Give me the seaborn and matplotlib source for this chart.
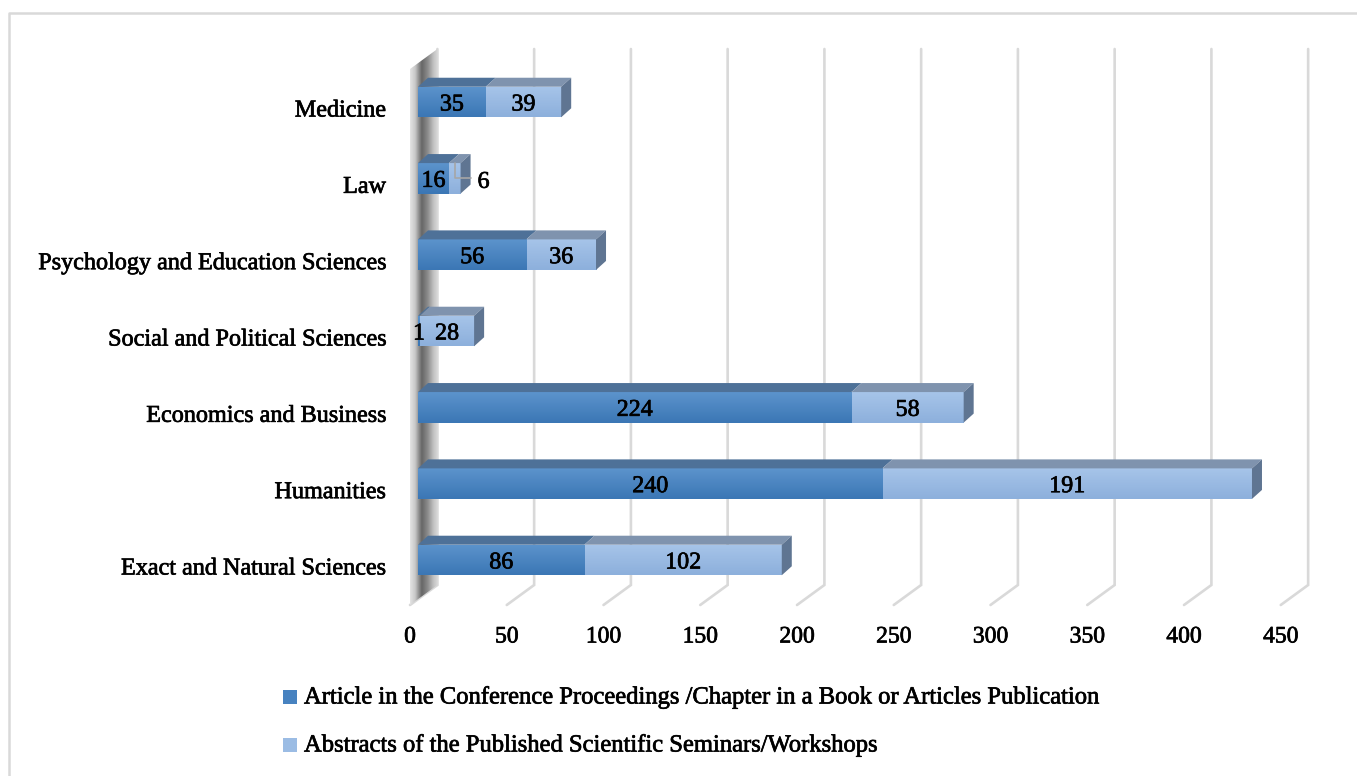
import numpy as np
import pandas as pd
import matplotlib
matplotlib.use("Agg")
import matplotlib.pyplot as plt
import matplotlib.patheffects as pe
import seaborn as sns
from matplotlib.patches import Polygon, Rectangle
from matplotlib.lines import Line2D
from matplotlib.colors import LinearSegmentedColormap, to_rgb

# ---------------- data ----------------
categories = ["Medicine", "Law", "Psychology and Education Sciences",
              "Social and Political Sciences", "Economics and Business",
              "Humanities", "Exact and Natural Sciences"]
articles = [35, 16, 56, 1, 224, 240, 86]
abstracts = [39, 6, 36, 28, 58, 191, 102]
series_names = ["Article in the Conference Proceedings /Chapter in a Book or Articles Publication",
                "Abstracts of the Published Scientific Seminars/Workshops"]
xticks = [0, 50, 100, 150, 200, 250, 300, 350, 400, 450]

totals = [a + b for a, b in zip(articles, abstracts)]
df = pd.DataFrame({"category": categories, "articles": articles,
                   "abstracts": abstracts, "total": totals})

# ---------------- style ----------------
sns.set_style("white")
plt.rcParams["font.family"] = ["Liberation Serif", "DejaVu Serif"]
heavy = [pe.withStroke(linewidth=0.5, foreground="black")]

W, H = 1357, 776
fig = plt.figure(figsize=(W / 100, H / 100), dpi=100)

# mapping: px = 418 + 1.935*v ; py = 102 + 76.33*y
PPU_X = 1.935
PPU_Y = 76.33
X0PX, Y0PX = 418, 102
xlim = (-20, 470)
ylim = (7.5, -1.0)
left_px = X0PX + PPU_X * xlim[0]
right_px = X0PX + PPU_X * xlim[1]
top_px = Y0PX + PPU_Y * ylim[1]
bot_px = Y0PX + PPU_Y * ylim[0]
ax = fig.add_axes([left_px / W, 1 - bot_px / H, (right_px - left_px) / W, (bot_px - top_px) / H])

c_dark = "#4782c0"
c_light = "#9bbce4"
c_dark_top = "#4e7198"
c_light_top = "#7f93ae"
c_side = "#5f7592"
c_grid = "#d9d9d9"

def px2dx(p):
    return p / PPU_X

def px2dy(p):
    return p / PPU_Y

# back wall / gridlines geometry
back_dx = px2dx(19.4)
front_dx = px2dx(-8.0)
grid_top = px2dy(49 - Y0PX)
grid_back_bot = px2dy(585 - Y0PX)
grid_front_bot = px2dy(605 - Y0PX)

for v in xticks:
    ax.plot([v + back_dx, v + back_dx, v + front_dx],
            [grid_top, grid_back_bot, grid_front_bot],
            color=c_grid, lw=1.9, zorder=0, solid_joinstyle="miter")

# left wall with gradient
wall_front_top = px2dy(69 - Y0PX)
wall_poly = Polygon([(front_dx, wall_front_top), (back_dx, grid_top),
                     (back_dx, grid_back_bot), (front_dx, grid_front_bot)],
                    closed=True, facecolor="none", edgecolor="none",
                    transform=ax.transData)
ax.add_patch(wall_poly)
wall_cmap = LinearSegmentedColormap.from_list(
    "wall", [(0, "#e4e4e4"), (0.18, "#c8c8c8"), (0.42, "#666666"),
             (0.62, "#888888"), (0.85, "#c2c2c2"), (1.0, "#dadada")])
grad = np.tile(np.linspace(0, 1, 64), (8, 1))
im = ax.imshow(grad, cmap=wall_cmap, aspect="auto",
               extent=(front_dx, back_dx, grid_front_bot, grid_top),
               zorder=1, interpolation="bilinear")
im.set_clip_path(wall_poly)

# ---------------- bars (seaborn) ----------------
bw = 0.4
sns.barplot(data=df, x="total", y="category", color=c_light, orient="h",
            width=bw, ax=ax, saturation=1, zorder=3, linewidth=0)
sns.barplot(data=df, x="articles", y="category", color=c_dark, orient="h",
            width=bw, ax=ax, saturation=1, zorder=4, linewidth=0)

patches = list(ax.patches)
light_patches = [p for p in patches if tuple(p.get_facecolor()[:3]) == to_rgb(c_light)]
dark_patches = [p for p in patches if tuple(p.get_facecolor()[:3]) == to_rgb(c_dark)]

# vertical shading on front faces
vgrad = np.linspace(0, 1, 32).reshape(-1, 1)
cm_dark = LinearSegmentedColormap.from_list("d", ["#5c93cc", "#3b77b5"])
cm_light = LinearSegmentedColormap.from_list("l", ["#a6c4e9", "#8db0dc"])
for plist, cm, z in [(light_patches, cm_light, 3.5), (dark_patches, cm_dark, 4.5)]:
    for p in plist:
        x_a, y_a = p.get_x(), p.get_y()
        x_b, y_b = x_a + p.get_width(), y_a + p.get_height()
        g = ax.imshow(vgrad, cmap=cm, aspect="auto",
                      extent=(min(x_a, x_b), max(x_a, x_b), max(y_a, y_b), min(y_a, y_b)),
                      zorder=z, interpolation="bilinear")
        g.set_clip_path(p)

# 3D faces derived from the bar patches
ddx = px2dx(10)
ddy = px2dy(9)
for lp, dp in zip(light_patches, dark_patches):
    y_top = min(lp.get_y(), lp.get_y() + lp.get_height())
    y_bot = max(lp.get_y(), lp.get_y() + lp.get_height())
    x0 = dp.get_x()
    xd = dp.get_x() + dp.get_width()
    xt = lp.get_x() + lp.get_width()
    ax.add_patch(Polygon([(x0, y_top), (xd, y_top), (xd + ddx, y_top - ddy), (x0 + ddx, y_top - ddy)],
                         closed=True, facecolor=c_dark_top, edgecolor="none", zorder=5))
    ax.add_patch(Polygon([(xd, y_top), (xt, y_top), (xt + ddx, y_top - ddy), (xd + ddx, y_top - ddy)],
                         closed=True, facecolor=c_light_top, edgecolor="none", zorder=5))
    ax.add_patch(Polygon([(xt, y_top), (xt + ddx, y_top - ddy), (xt + ddx, y_bot - ddy), (xt, y_bot)],
                         closed=True, facecolor=c_side, edgecolor="none", zorder=5))

# ---------------- value labels ----------------
num_fs = 17.3
dy_lab = px2dy(3)
for i, (a, b) in enumerate(zip(articles, abstracts)):
    ax.text(a / 2, i + dy_lab, str(a), ha="center", va="center", fontsize=num_fs,
            color="black", zorder=7, path_effects=heavy)
    if b < 10:
        xc = a + b / 2
        ax.plot([xc, xc, a + b + px2dx(10)], [i - bw / 2, i - 0.004, i - 0.004],
                color="#a6a6a6", lw=1.2, zorder=7)
        ax.text(a + b + px2dx(23), i + px2dy(4), str(b), ha="center", va="center",
                fontsize=num_fs, color="black", zorder=7, path_effects=heavy)
    else:
        ax.text(a + b / 2, i + dy_lab, str(b), ha="center", va="center", fontsize=num_fs,
                color="black", zorder=7, path_effects=heavy)

# category labels
for i, c in enumerate(categories):
    ax.text(px2dx(386 - X0PX), i + px2dy(9), c, ha="right", va="center",
            fontsize=17.4, color="black", path_effects=heavy)

# x tick labels (front plane)
for v in xticks:
    ax.text(v + front_dx, px2dy(637 - Y0PX), str(v), ha="center", va="center",
            fontsize=17, color="black", path_effects=heavy)

ax.set_xlim(*xlim)
ax.set_ylim(*ylim)
ax.axis("off")

# ---------------- legend ----------------
for k, (name, col) in enumerate(zip(series_names, [c_dark, c_light])):
    yc = [697, 745][k]
    fig.patches.append(Rectangle((283 / W, 1 - (yc + 7) / H), 14 / W, 14 / H,
                                 transform=fig.transFigure, facecolor=col,
                                 edgecolor="none"))
    fig.text(304 / W, 1 - yc / H, name, ha="left", va="center", fontsize=17.7,
             color="black", path_effects=heavy)

# outer frame
fig.add_artist(Line2D([9 / W, 9 / W, 1.0], [0.0, 1 - 13 / H, 1 - 13 / H],
                      transform=fig.transFigure, color="#d9d9d9", lw=1.8))

fig.savefig("out.png", dpi=100)
